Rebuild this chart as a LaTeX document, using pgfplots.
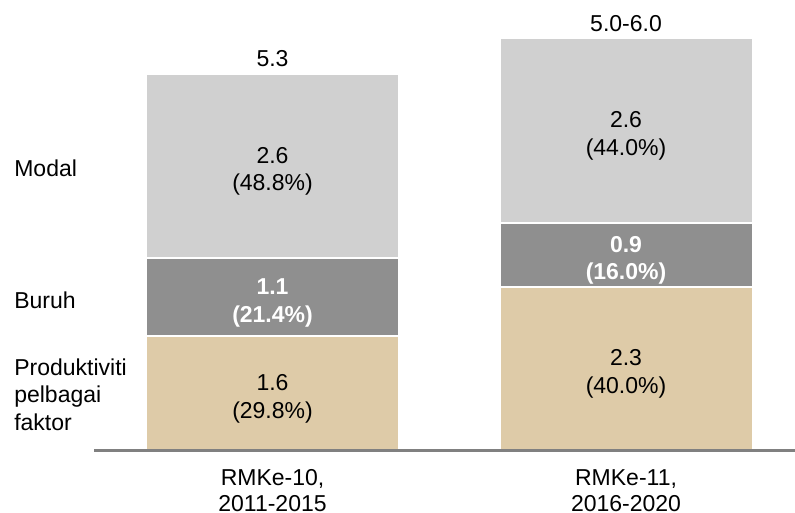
\documentclass[border=0pt]{standalone}
\usepackage{pgfplots}
\pgfplotsset{compat=1.18}
\usepackage{fontspec}
\setmainfont{Liberation Sans}
\definecolor{modal}{RGB}{208,208,208}
\definecolor{buruh}{RGB}{143,143,143}
\definecolor{tfp}{RGB}{222,203,168}
\definecolor{axisgray}{RGB}{128,128,128}
\newcommand{\lbl}{\fontsize{23}{27.5}\selectfont}

\begin{document}
\begin{tikzpicture}[font=\lbl]
\useasboundingbox (0,0) rectangle (795pt,513pt);
\begin{axis}[
  at={(94pt,63pt)}, anchor=south west,
  scale only axis, width=701pt, height=450pt,
  xmin=-0.505, xmax=1.478, ymin=0, ymax=6.338,
  ybar stacked, bar width=253pt,
  hide y axis,
  axis x line*=bottom, x axis line style={draw=none},
  xtick={0,1}, major tick length=0pt,
  xticklabels={{RMKe-10,\\2011-2015},{RMKe-11,\\2016-2020}},
  xticklabel style={align=center, font=\fontsize{23}{26.7}\selectfont, inner sep=0pt, yshift=-19pt},
  clip=false,
  every axis plot/.append style={draw=white, line width=2pt},
]
% Produktiviti pelbagai faktor, Buruh, Modal
\addplot[fill=tfp] coordinates {(0,1.6) (1,2.3)};
\addplot[fill=buruh] coordinates {(0,1.1) (1,0.9)};
\addplot[fill=modal] coordinates {(0,2.6) (1,2.6)};

\coordinate (base0) at (rel axis cs:0,0);
\coordinate (base1) at (rel axis cs:1,0);
\coordinate (a1) at (axis cs:0,0.8);
\coordinate (a2) at (axis cs:0,2.15);
\coordinate (a3) at (axis cs:0,4.0);
\coordinate (b1) at (axis cs:1,1.15);
\coordinate (b2) at (axis cs:1,2.75);
\coordinate (b3) at (axis cs:1,4.5);
\coordinate (ta) at (axis cs:0,5.3);
\coordinate (tb) at (axis cs:1,5.8);
\coordinate (n1) at (axis cs:-0.731,3.97);
\coordinate (n2) at (axis cs:-0.731,2.11);
\coordinate (n3) at (axis cs:-0.731,0.78);
\end{axis}

\draw[axisgray, line width=3pt] ([yshift=-1pt]base0) -- ([yshift=-1pt]base1);

% segment labels
\begin{scope}[every node/.style={align=center, yshift=-5.5pt}]
\node at (a1) {1.6\\(29.8\%)};
\node[text=white, font=\lbl\bfseries] at (a2) {1.1\\(21.4\%)};
\node at (a3) {2.6\\(48.8\%)};
\node at (b1) {2.3\\(40.0\%)};
\node[text=white, font=\lbl\bfseries] at (b2) {0.9\\(16.0\%)};
\node at (b3) {2.6\\(44.0\%)};
\end{scope}

% totals
\node[anchor=base, yshift=6.7pt] at (ta) {5.3};
\node[anchor=base, yshift=7pt] at (tb) {5.0-6.0};

% series names
\node[anchor=west, inner sep=0pt] at (n1) {Modal};
\node[anchor=west, inner sep=0pt] at (n2) {Buruh};
\node[anchor=west, inner sep=0pt, align=left] at (n3) {Produktiviti\\pelbagai\\faktor};
\end{tikzpicture}
\end{document}
